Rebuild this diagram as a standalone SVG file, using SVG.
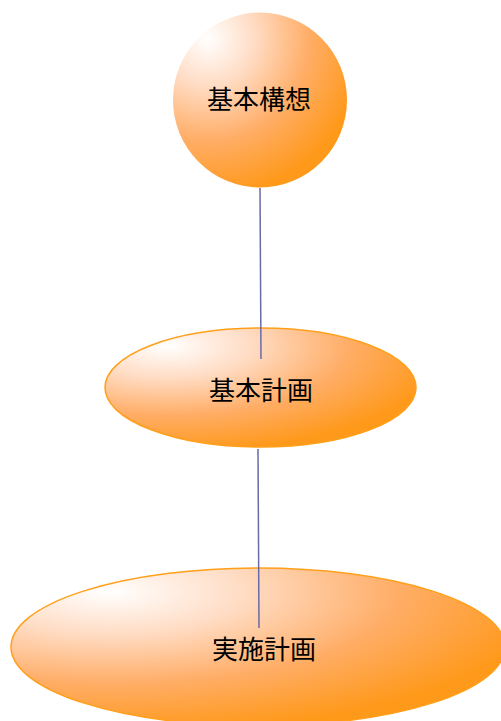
<svg xmlns="http://www.w3.org/2000/svg" width="501" height="721" viewBox="0 0 501 721">
<defs>
<radialGradient id="g" cx="0.2" cy="0.15" r="0.9" fx="0.2" fy="0.15">
<stop offset="0" stop-color="#ffffff"/>
<stop offset="0.3" stop-color="#ffdcc4"/>
<stop offset="0.65" stop-color="#ffad66"/>
<stop offset="1" stop-color="#ff991a"/>
</radialGradient>
<style>
.n{fill:url(#g);stroke:#ff9f1a;stroke-width:1.5}
.t{font-family:"Noto Sans CJK JP","Noto Sans CJK SC",sans-serif;font-size:26px;fill:#000;text-anchor:middle;dominant-baseline:central}
.c{stroke:#6a6aa6;stroke-width:1.5;fill:none}
</style>
</defs>
<g id="n1"><ellipse class="n" cx="260" cy="100" rx="87" ry="87.5" style="stroke:none"/><text class="t" x="259" y="97">基本構想</text></g>
<g id="n2"><ellipse class="n" cx="260.5" cy="387.5" rx="155.5" ry="59.5"/><text class="t" x="261" y="388">基本計画</text></g>
<g id="n3"><ellipse class="n" cx="258" cy="647" rx="247" ry="79"/><text class="t" x="264" y="647">実施計画</text></g>
<g id="connectors">
<line class="c" x1="260" y1="188" x2="261" y2="359"/>
<line class="c" x1="258" y1="449" x2="259" y2="628"/>
</g>
</svg>
